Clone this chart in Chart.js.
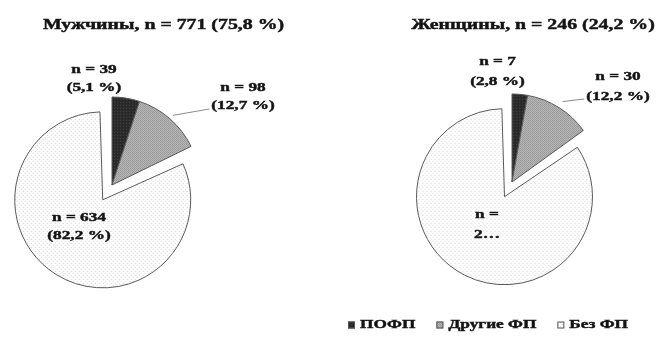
<!DOCTYPE html>
<html>
<head>
<meta charset="utf-8">
<script src="https://cdn.jsdelivr.net/npm/chart.js@4.4.1/dist/chart.umd.min.js"></script>
<style>
  html, body { margin: 0; padding: 0; background: #fff; width: 661px; height: 337px; overflow: hidden; }
  canvas { position: absolute; top: 0; }
  #men { left: 0; }
  #women { left: 330px; }
</style>
</head>
<body>
<canvas id="men" width="330" height="337"></canvas>
<canvas id="women" width="331" height="337"></canvas>
<script>
// Categories of physical activity and counts per group
const categories = ['ПОФП', 'Другие ФП', 'Без ФП'];
const menCounts = [39, 98, 634];
const womenCounts = [7, 30, 209];
const groupNames = ['Мужчины', 'Женщины'];

const SERIF = '"Liberation Serif", "Times New Roman", serif';
const SX = 1.28; // horizontal text stretch
const INK = '#141414';

function makePattern(size, base, dots) {
  const c = document.createElement('canvas');
  c.width = size; c.height = size;
  const g = c.getContext('2d');
  g.fillStyle = base;
  g.fillRect(0, 0, size, size);
  for (const [x, y, col] of dots) {
    g.fillStyle = col;
    g.fillRect(x, y, 1, 1);
  }
  return g.createPattern(c, 'repeat');
}

const fills = [
  makePattern(3, '#2c2c2c', [[0, 0, '#3e3e3e'], [2, 1, '#222222']]),
  makePattern(2, '#b6b6b6', [[0, 0, '#989898'], [1, 1, '#9e9e9e']]),
  makePattern(4, '#ffffff', [[0, 0, '#cdcdcd'], [2, 2, '#dadada']])
];

const fmt = (v, d) => v.toFixed(d).replace('.', ',');
const sum = a => a.reduce((s, v) => s + v, 0);

function textW(ctx, t) { return ctx.measureText(t).width * SX; }
function stretchText(ctx, t, x, y) {
  ctx.save();
  ctx.translate(x, y);
  ctx.scale(SX, 1);
  ctx.lineWidth = 0.45;
  ctx.strokeStyle = ctx.fillStyle;
  ctx.fillText(t, 0, 0);
  ctx.strokeText(t, 0, 0);
  ctx.restore();
}

// Word-wrap lines into a box of the given width; the last allowed line is cut with an ellipsis
function wrapLines(ctx, lines, maxWidth, maxLines) {
  const out = [];
  let cut = false;
  for (const line of lines) {
    const words = line.split(' ');
    let cur = '';
    for (const w of words) {
      const trial = cur ? cur + ' ' + w : w;
      if (!cur || textW(ctx, trial) <= maxWidth) { cur = trial; }
      else { out.push(cur); cur = w; }
    }
    out.push(cur);
  }
  if (out.length > maxLines) { cut = true; out.length = maxLines; }
  if (cut) {
    let last = out[maxLines - 1];
    while (last.length > 1 && textW(ctx, last + '…') > maxWidth) last = last.slice(0, -1);
    out[maxLines - 1] = last + '…';
  }
  return out;
}

// Pushes the exploded (large) slice back to the common radius
const explodeRadiusFix = {
  id: 'explodeRadiusFix',
  afterDatasetUpdate(chart, args) {
    for (const arc of args.meta.data) {
      const off = (arc.options && arc.options.offset) || 0;
      if (off && arc.circumference >= Math.PI) arc.outerRadius -= off / 4;
    }
  }
};

// Title, slice labels, leader line and legend
const annotations = {
  id: 'annotations',
  afterDatasetsDraw(chart, args, opts) {
    const ctx = chart.ctx;
    const meta = chart.getDatasetMeta(0);
    const counts = chart.data.datasets[0].data;
    const total = sum(counts);
    const cx = meta.data[0].x, cy = meta.data[0].y, R = meta.data[0].outerRadius;
    ctx.save();
    ctx.fillStyle = INK;
    ctx.textAlign = 'center';
    ctx.textBaseline = 'middle';

    // title
    ctx.font = 'bold 15.5px ' + SERIF;
    stretchText(ctx, opts.title, opts.titlePos[0], opts.titlePos[1]);

    // slice labels
    ctx.font = 'bold 13.5px ' + SERIF;
    counts.forEach((v, i) => {
      const p = opts.labels[i];
      const raw = ['n = ' + v, '(' + fmt(v / total * 100, 1) + ' %)'];
      const lines = wrapLines(ctx, raw, p.w, 2);
      const bx = cx + p.dx, by = cy + p.dy;
      const top = by - (lines.length - 1) * opts.lineH / 2;
      lines.forEach((t, k) => stretchText(ctx, t, bx, top + k * opts.lineH));
      if (p.leader) {
        const a = meta.data[i];
        const mid = (a.startAngle + a.endAngle) / 2;
        const sx = cx + Math.cos(mid) * R * p.leader;
        const sy = cy + Math.sin(mid) * R * p.leader;
        const left = bx - Math.max(...lines.map(t => textW(ctx, t))) / 2 - 2;
        ctx.save();
        ctx.strokeStyle = '#8a8a8a';
        ctx.lineWidth = 1;
        ctx.beginPath();
        ctx.moveTo(sx, sy);
        ctx.lineTo(left, by + 12);
        ctx.stroke();
        ctx.restore();
      }
    });

    // legend
    if (opts.legend) {
      const items = chart.options.plugins.legend.labels.generateLabels(chart);
      ctx.font = 'bold 13.5px ' + SERIF;
      ctx.textAlign = 'left';
      let x = opts.legend.x;
      const y = opts.legend.y;
      const box = 7;
      items.forEach(it => {
        ctx.fillStyle = it.fillStyle;
        ctx.fillRect(x, y - box / 2, box, box);
        ctx.strokeStyle = '#555';
        ctx.lineWidth = 1;
        ctx.strokeRect(x + 0.5, y - box / 2 + 0.5, box - 1, box - 1);
        ctx.fillStyle = INK;
        stretchText(ctx, it.text, x + box + 5, y);
        x += box + 5 + textW(ctx, it.text) + 21;
      });
    }
    ctx.restore();
  }
};

function groupTitle(k, counts) {
  const all = sum(menCounts) + sum(womenCounts);
  return groupNames[k] + ', n = ' + sum(counts) + ' (' + fmt(sum(counts) / all * 100, 1) + ' %)';
}

function makePie(id, counts, explode, padding, ann) {
  return new Chart(document.getElementById(id), {
    type: 'pie',
    data: {
      labels: categories,
      datasets: [{
        data: counts,
        backgroundColor: fills,
        borderColor: '#5a5a5a',
        borderWidth: 1,
        offset: [0, 0, explode],
        radius: 88
      }]
    },
    options: {
      responsive: false,
      animation: false,
      events: [],
      layout: { padding },
      plugins: {
        legend: { display: false },
        tooltip: { enabled: false },
        annotations: ann
      }
    },
    plugins: [explodeRadiusFix, annotations]
  });
}

makePie('men', menCounts, 70, { left: 0, right: 106, top: 33, bottom: 0 }, {
  title: groupTitle(0, menCounts),
  titlePos: [163.5, 25],
  lineH: 18,
  labels: [
    { dx: -18, dy: -106, w: 120 },
    { dx: 131, dy: -88, w: 120, leader: 1.05 },
    { dx: -33, dy: 42, w: 120 }
  ]
});

makePie('women', womenCounts, 66, { left: 33, right: 0, top: 27, bottom: 0 }, {
  title: groupTitle(1, womenCounts),
  titlePos: [203, 24.5],
  lineH: 20,
  labels: [
    { dx: -14.5, dy: -110, w: 120 },
    { dx: 106, dy: -95, w: 120, leader: 1.08 },
    { dx: -25, dy: 43, w: 30 }
  ],
  legend: { x: 18, y: 325 }
});
</script>
</body>
</html>
